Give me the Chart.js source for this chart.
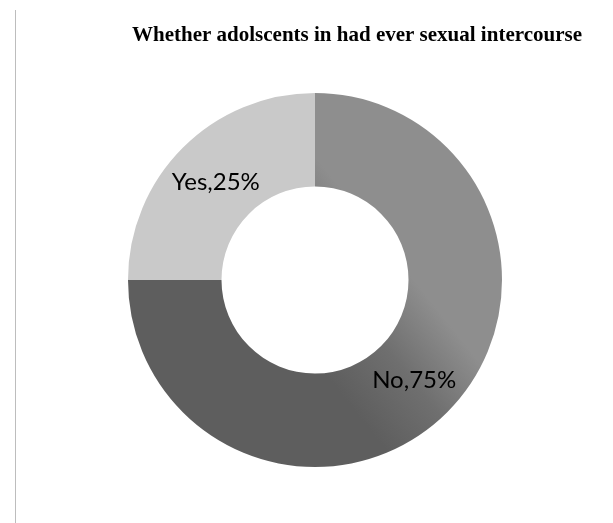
<!DOCTYPE html>
<html>
<head>
<meta charset="utf-8">
<script src="https://cdn.jsdelivr.net/npm/chart.js@4"></script>
<style>
  html, body { margin: 0; padding: 0; background: #fff; }
  #wrap { position: relative; width: 613px; height: 523px; }
  #edge { position: absolute; left: 15px; top: 10px; width: 1px; height: 513px; background: #bdbdbd; }
</style>
</head>
<body>
<div id="wrap">
  <div id="edge"></div>
  <canvas id="pie" width="613" height="523"></canvas>
</div>
<script>
const chartTitle = 'Whether adolscents in had ever sexual intercourse';
const categories = ['No', 'Yes'];
const percents = [75, 25];

// title + "Category,NN%" labels drawn on top of the arcs
const labelPlugin = {
  id: 'labelPlugin',
  afterDraw: function (chart) {
    const ctx = chart.ctx;
    ctx.save();
    ctx.fillStyle = '#000';
    ctx.textAlign = 'center';
    ctx.textBaseline = 'middle';
    ctx.font = 'bold 21px "Liberation Serif", "Times New Roman", serif';
    ctx.fillText(chartTitle, 357, 36);

    ctx.font = '24px Lato, "Open Sans", sans-serif';
    const meta = chart.getDatasetMeta(0);
    meta.data.forEach(function (arc, i) {
      const p = arc.tooltipPosition();
      ctx.fillText(categories[i] + ',' + percents[i] + '%', p.x, p.y + 1);
    });
    ctx.restore();
  }
};

function noFill(context) {
  const area = context.chart.chartArea;
  if (!area) return '#7a7a7a';
  const c = context.chart.ctx;
  const g = c.createLinearGradient(330, 380, 430, 300);
  g.addColorStop(0, '#5e5e5e');
  g.addColorStop(0.5, '#6f6f6f');
  g.addColorStop(1, '#8e8e8e');
  return g;
}

new Chart(document.getElementById('pie').getContext('2d'), {
  type: 'doughnut',
  data: {
    labels: categories,
    datasets: [{
      data: percents,
      backgroundColor: function (context) {
        return context.dataIndex === 0 ? noFill(context) : '#c9c9c9';
      },
      borderWidth: 0
    }]
  },
  options: {
    responsive: false,
    animation: false,
    cutout: '50%',
    layout: {
      padding: { left: 128, right: 111, top: 93, bottom: 56 }
    },
    plugins: {
      legend: { display: false },
      title: { display: false },
      tooltip: { enabled: false }
    }
  },
  plugins: [labelPlugin]
});
</script>
</body>
</html>
